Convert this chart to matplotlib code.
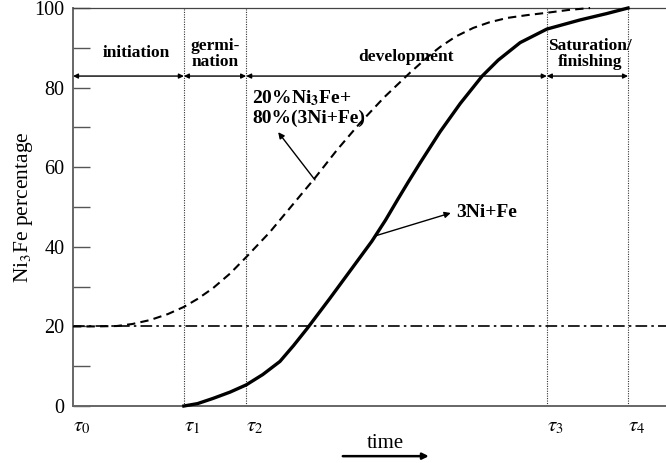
import numpy as np
import matplotlib
matplotlib.use("Agg")
import matplotlib.pyplot as plt

plt.rcParams['font.family'] = ['Liberation Serif', 'DejaVu Serif']
plt.rcParams['mathtext.fontset'] = 'stix'

# stage boundaries (time, arbitrary units)
tau = [0.0, 1.87, 2.92, 7.99, 9.36]
tau_labels = [r'$\tau_0$', r'$\tau_1$', r'$\tau_2$', r'$\tau_3$', r'$\tau_4$']
stages = ['initiation', 'germi-\nnation', 'development', 'Saturation/\nfinishing']
stage_x = [1.06, 2.39, 5.62, 8.72]
stage_y = [88.7, 88.4, 87.7, 88.4]

# 3Ni+Fe curve
solid_t = [1.87, 2.10, 2.36, 2.65, 2.92, 3.20, 3.49, 3.72, 3.95, 4.33, 4.70, 5.04,
           5.27, 5.48, 5.65, 5.85, 6.19, 6.53, 6.90, 7.17, 7.54, 7.99, 8.55,
           9.00, 9.36]
solid_v = [0.0, 0.6, 1.9, 3.5, 5.3, 7.9, 11.2, 15.2, 19.5, 27.0, 34.5, 41.4,
           46.7, 52.0, 56.2, 61.0, 68.9, 76.0, 82.9, 86.9, 91.3, 94.7, 97.0,
           98.6, 100.0]

# 20%Ni3Fe + 80%(3Ni+Fe) curve
dash_t = [0.0, 0.40, 0.74, 1.00, 1.30, 1.60, 1.87, 2.10, 2.36, 2.65, 2.92, 3.32,
          3.70, 4.08, 4.45, 4.84, 5.25, 5.68, 6.02, 6.19, 6.45, 6.75, 7.02,
          7.32, 7.65, 7.99, 8.35, 8.72]
dash_v = [20.0, 20.0, 20.1, 20.6, 21.6, 23.1, 24.9, 26.9, 29.6, 33.3, 37.4, 43.7,
          50.5, 57.3, 64.3, 71.1, 77.6, 83.7, 88.2, 90.2, 92.8, 95.0, 96.4,
          97.5, 98.2, 98.8, 99.5, 100.0]

fig = plt.figure(figsize=(6.66, 4.63), dpi=100)
ax = fig.add_axes([0.1096, 0.1231, 0.8904, 0.8596])

ax.set_xlim(0, 10)
ax.set_ylim(0, 100)

# stage boundaries
for t in tau[1:]:
    ax.axvline(t, color='#333333', lw=0.8, ls=(0, (1, 1.2)), zorder=1)

# 20% reference line
ax.axhline(20, color='black', lw=1.2, ls=(0, (7, 2.5, 1.5, 2.5)), zorder=2)

ax.plot(dash_t, dash_v, color='black', lw=1.5, ls=(0, (4, 2.5)), zorder=3, clip_on=False)
ax.plot(solid_t, solid_v, color='black', lw=2.4, zorder=4, clip_on=False,
        solid_joinstyle='round')

# stage arrows
for a, b in zip(tau[:-1], tau[1:]):
    ax.annotate('', xy=(b, 82.9), xytext=(a, 82.9),
                arrowprops=dict(arrowstyle='<|-|>', color='black', lw=1.0,
                                mutation_scale=7, shrinkA=0, shrinkB=0))
for s, x, y in zip(stages, stage_x, stage_y):
    ax.text(x, y, s, ha='center', va='center', fontsize=12.5, fontweight='bold',
            linespacing=1.0)

# curve labels
ax.text(3.02, 75.0, '20%Ni$_\\mathbf{3}$Fe+\n80%(3Ni+Fe)', ha='left', va='center',
        fontsize=14, fontweight='bold', linespacing=1.1)
ax.annotate('', xy=(3.46, 68.8), xytext=(4.08, 56.8),
            arrowprops=dict(arrowstyle='-|>', color='black', lw=1.0,
                            mutation_scale=9, shrinkA=0, shrinkB=0))
ax.text(6.46, 48.5, '3Ni+Fe', ha='left', va='center', fontsize=14, fontweight='bold')
ax.annotate('', xy=(6.37, 48.5), xytext=(5.11, 42.8),
            arrowprops=dict(arrowstyle='-|>', color='black', lw=1.0,
                            mutation_scale=9, shrinkA=0, shrinkB=0))

# axes styling
ax.set_yticks(np.arange(0, 101, 10))
ax.set_yticklabels([str(v) if v % 20 == 0 else '' for v in range(0, 101, 10)],
                   fontsize=14.5)
ax.tick_params(axis='y', direction='in', length=12, width=1.0, color='#555555', pad=6)
ax.set_xticks(tau)
ax.set_xticklabels(tau_labels, fontsize=15)
ax.tick_params(axis='x', length=0, pad=8)
for lab in ax.get_xticklabels():
    lab.set_horizontalalignment('left')

ax.spines['right'].set_visible(False)
ax.spines['left'].set_color('#666666')
ax.spines['bottom'].set_color('#666666')
ax.spines['left'].set_linewidth(1.4)
ax.spines['bottom'].set_linewidth(1.4)
ax.spines['top'].set_color('#444444')
ax.spines['top'].set_linewidth(0.9)

ax.set_ylabel('Ni$_3$Fe percentage', fontsize=15.5, labelpad=0)

# time arrow under the axis
ax.text(5.27, -0.095, 'time', transform=ax.get_xaxis_transform(), ha='center',
        va='center', fontsize=15)
ax.annotate('', xy=(6.0, -0.126), xytext=(4.55, -0.126),
            xycoords=ax.get_xaxis_transform(), textcoords=ax.get_xaxis_transform(),
            arrowprops=dict(arrowstyle='-|>', color='black', lw=1.8,
                            mutation_scale=9, shrinkA=0, shrinkB=0))

fig.savefig('out.png', dpi=100)
